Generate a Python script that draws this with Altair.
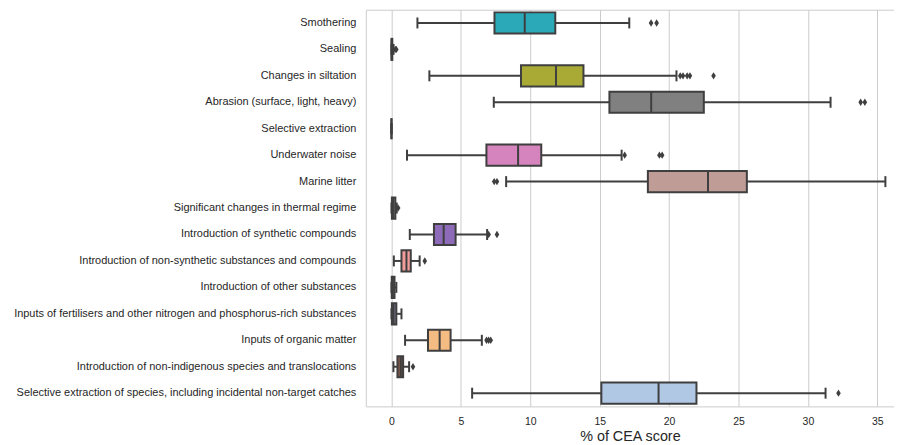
import altair as alt
import pandas as pd

categories = [
    "Smothering",
    "Sealing",
    "Changes in siltation",
    "Abrasion (surface, light, heavy) ",
    "Selective extraction",
    "Underwater noise",
    "Marine litter",
    "Significant changes in thermal regime",
    "Introduction of synthetic compounds",
    "Introduction of non-synthetic substances and compounds",
    "Introduction of other substances",
    "Inputs of fertilisers and other nitrogen and phosphorus-rich substances ",
    "Inputs of organic matter",
    "Introduction of non-indigenous species and translocations",
    "Selective extraction of species, including incidental non-target catches ",
]
lows = [1.87, 0.0, 2.73, 7.37, 0.0, 1.12, 8.26, 0.0, 1.32, 0.17, 0.0, 0.0, 0.98, 0.14, 5.81]
q1s = [7.42, 0.0, 9.33, 15.7, 0.0, 6.84, 18.47, 0.03, 3.06, 0.72, 0.02, 0.03, 2.63, 0.43, 15.12]
medians = [9.6, 0.02, 11.85, 18.71, 0.0, 9.12, 22.8, 0.12, 3.76, 1.08, 0.1, 0.15, 3.47, 0.67, 19.24]
q3s = [11.8, 0.06, 13.83, 22.5, 0.0, 10.79, 25.6, 0.28, 4.62, 1.39, 0.22, 0.35, 4.26, 0.84, 21.97]
highs = [17.13, 0.15, 20.53, 31.63, 0.0, 16.58, 35.58, 0.38, 6.89, 2.03, 0.35, 0.72, 6.51, 1.27, 31.27]
fills = [
    "#2ba9b8", "#6a7f8f", "#a9aa35", "#808080", "#8a7a6a",
    "#d684bd", "#bf9d96", "#7f8a7f", "#8d6bb8", "#f09d9b",
    "#8a7070", "#7f7890", "#f4bb82", "#84594e", "#b0c8e4",
]

outlier_cats = (
    [categories[0]] * 2
    + [categories[1]] * 2
    + [categories[2]] * 5
    + [categories[3]] * 2
    + [categories[5]] * 3
    + [categories[6]] * 2
    + [categories[7]] * 1
    + [categories[8]] * 2
    + [categories[9]] * 1
    + [categories[12]] * 3
    + [categories[13]] * 1
    + [categories[14]] * 1
)
outlier_vals = [
    18.7, 19.1,
    0.28, 0.35,
    20.8, 21.0, 21.3, 21.5, 23.2,
    33.8, 34.1,
    16.8, 19.3, 19.5,
    7.4, 7.6,
    0.48,
    7.0, 7.6,
    2.4,
    6.85, 7.0, 7.15,
    1.55,
    32.2,
]

box_df = pd.DataFrame({
    "category": categories,
    "low": lows,
    "q1": q1s,
    "median": medians,
    "q3": q3s,
    "high": highs,
})
out_df = pd.DataFrame({"category": outlier_cats, "value": outlier_vals})

EDGE = "#3f3f3f"
TEXT = "#262626"
BORDER = "#cccccc"
FONT = "Liberation Sans, Arial, sans-serif"

xscale = alt.Scale(domain=[-1.85, 36.2], nice=False, zero=False)
xaxis_bottom = alt.Axis(
    values=[0, 5, 10, 15, 20, 25, 30, 35],
    grid=True, gridColor=BORDER, gridWidth=1,
    domain=True, domainColor=BORDER, domainWidth=1, ticks=False,
    labelPadding=10, labelFontSize=10.5, labelColor=TEXT, labelFont=FONT,
    title="% of CEA score", titleFontSize=14.4, titleFontWeight="normal",
    titleColor=TEXT, titleFont=FONT, titlePadding=3,
)
xaxis_top = alt.Axis(
    orient="top", grid=False, labels=False, ticks=False, title=None,
    domain=True, domainColor=BORDER, domainWidth=1, minExtent=0, maxExtent=0,
)
yscale = alt.Scale(domain=categories, paddingInner=0.2, paddingOuter=0.1)
yaxis = alt.Axis(
    domain=True, domainColor=BORDER, domainWidth=1, ticks=False, grid=False,
    labelPadding=10, labelFontSize=11, labelColor=TEXT, labelFont=FONT,
    labelLimit=600,
)


def X(field, axis=None):
    return alt.X(f"{field}:Q", scale=xscale, axis=axis)


Y = alt.Y("category:N", scale=yscale, sort=categories, axis=yaxis, title=None)

base = alt.Chart(box_df)

whisker = base.mark_rule(color=EDGE, strokeWidth=2).encode(
    x=X("low", xaxis_bottom), x2="high:Q", y=Y
)
box = base.mark_bar(stroke=EDGE, strokeWidth=2, opacity=1).encode(
    x=X("q1", xaxis_top), x2="q3:Q", y=Y,
    color=alt.Color("category:N", scale=alt.Scale(domain=categories, range=fills), legend=None),
)
median = base.mark_tick(color=EDGE, thickness=2, size=21, opacity=1).encode(
    x=X("median"), y=Y
)
cap_low = base.mark_tick(color=EDGE, thickness=2, size=11, opacity=1).encode(
    x=X("low"), y=Y
)
cap_high = base.mark_tick(color=EDGE, thickness=2, size=11, opacity=1).encode(
    x=X("high"), y=Y
)
outliers = alt.Chart(out_df).mark_point(
    shape="M0,-1L0.62,0L0,1L-0.62,0Z", filled=True, color=EDGE, size=55, opacity=1
).encode(x=X("value"), y=Y)

chart = alt.layer(whisker, box, median, cap_low, cap_high, outliers).resolve_axis(
    x="independent"
).properties(
    width=530, height=398,
    padding={"left": 5, "top": 1, "right": 0, "bottom": 0},
    background="white",
).configure_view(stroke=None)

chart.save("out.html", embed_options={"renderer": "svg", "actions": False})
